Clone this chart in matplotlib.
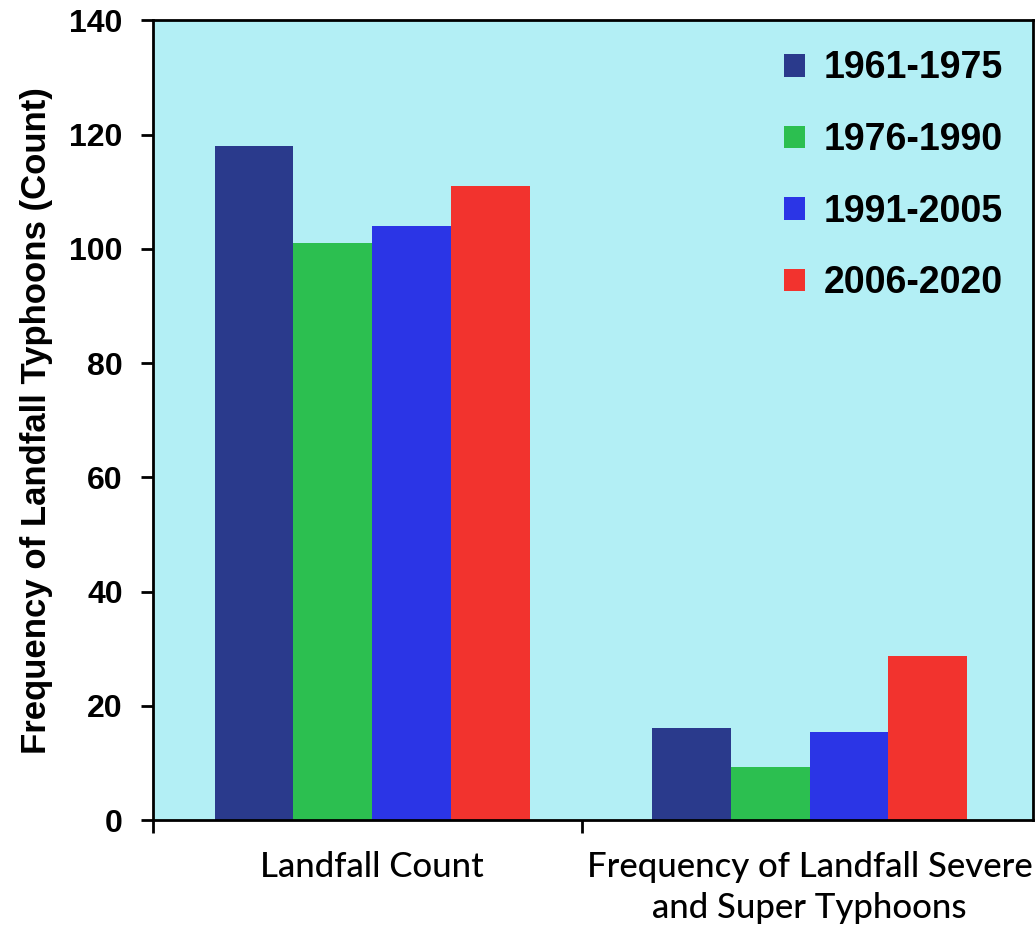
import matplotlib.pyplot as plt
import numpy as np

# data
categories = ['Landfall Count', 'Frequency of Landfall Severe\nand Super Typhoons']
periods = ['1961-1975', '1976-1990', '1991-2005', '2006-2020']
v_1961 = [118, 16.1]
v_1976 = [101, 9.3]
v_1991 = [104, 15.4]
v_2006 = [111, 28.7]
yticks = [0, 20, 40, 60, 80, 100, 120, 140]

series = [v_1961, v_1976, v_1991, v_2006]
colors = ['#2a3a8c', '#2cbf50', '#2b35e6', '#f2332e']

fig = plt.figure(figsize=(10.36, 9.31), dpi=100)
ax = fig.add_axes([0.148, 0.119, 0.849, 0.859])
ax.set_facecolor('#b3eff5')

x = np.arange(len(categories))
w = 0.18
for i, (vals, c, lab) in enumerate(zip(series, colors, periods)):
    ax.bar(x + (i - 1.5) * w, vals, w, color=c, label=lab, linewidth=0)

ax.set_xlim(-0.5, 1.51)
ax.set_ylim(0, 140)
ax.set_yticks(yticks)
ax.set_yticklabels([str(t) for t in yticks], fontsize=23, fontweight='bold',
                   family='Liberation Sans')
ax.set_xticks(x)
ax.set_xticklabels(categories, fontsize=25, family='Lato', fontweight='medium',
                   linespacing=1.35)
ax.set_xticks([-0.5, 0.48], minor=True)
ax.tick_params(axis='x', which='major', length=0, pad=22)
ax.tick_params(axis='x', which='minor', length=9, width=2)
ax.tick_params(axis='y', length=9, width=2, pad=13)
for s in ax.spines.values():
    s.set_linewidth(2)

ax.set_ylabel('Frequency of Landfall Typhoons (Count)', fontsize=25,
              fontweight='bold', family='Liberation Sans', labelpad=12)

leg = ax.legend(loc='upper right', frameon=False, handlelength=0.55,
                handleheight=0.55, handletextpad=0.5, labelspacing=0.95,
                borderaxespad=0.4,
                prop={'family': 'Liberation Sans', 'weight': 'bold', 'size': 27})

fig.savefig('out.png', dpi=100, facecolor='white')
